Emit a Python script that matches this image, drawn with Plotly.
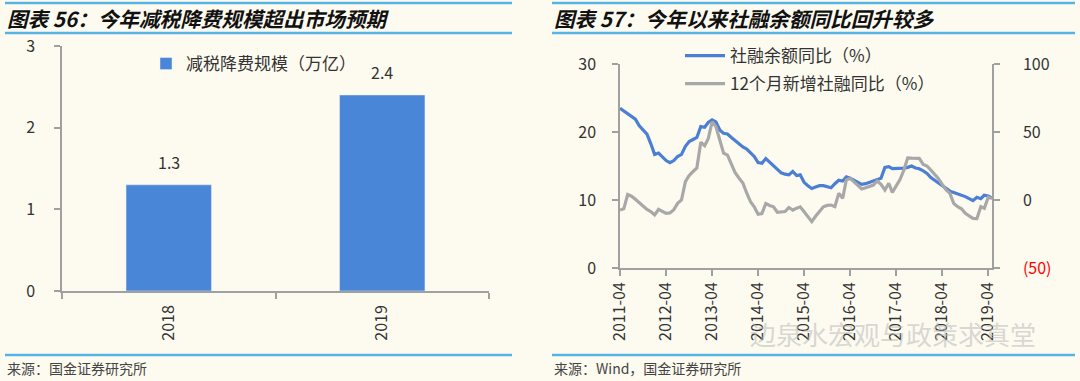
import plotly.graph_objects as go
import pandas as pd

W, H = 1080, 381

# ---------------- data ----------------
years = ["2018", "2019"]
tax_cut = [1.3, 2.4]  # 减税降费规模（万亿）

months = pd.date_range("2011-04-01", periods=98, freq="MS")

# 社融余额同比（%）  left axis
tsf_stock_yoy = [
    23.5, 23.1, 22.7, 22.3, 21.9, 20.9, 20.3, 19.7, 18.3, 16.7, 16.9, 16.3,
    15.8, 15.5, 15.8, 16.4, 16.7, 17.9, 18.6, 18.9, 19.2, 20.8, 20.7, 21.4,
    21.8, 21.5, 20.3, 19.8, 19.7, 19.2, 18.7, 18.3, 17.8, 17.5, 16.9, 16.4,
    15.5, 15.4, 16.1, 15.6, 15.1, 14.5, 14.0, 13.8, 13.7, 14.2, 13.6, 13.7,
    12.6, 12.1, 11.7, 11.9, 12.1, 12.1, 12.0, 11.8, 12.4, 12.9, 12.8, 13.4,
    13.2, 12.9, 12.6, 12.3, 12.4, 12.6, 12.8, 13.0, 13.2, 14.8, 14.9, 14.6,
    14.6, 14.6, 14.7, 14.8, 15.0, 14.7, 14.6, 14.3, 13.9, 13.3, 12.9, 12.6,
    12.2, 11.7, 11.3, 11.1, 10.9, 10.8, 10.5, 10.2, 9.9, 10.4, 10.2, 10.7,
    10.6, 10.3,
]

# 12个月新增社融同比（%）  right axis
tsf_flow_yoy = [
    -7.4, -6.5, 4.0, 2.8, 0.5, -2.0, -4.8, -7.0, -8.5, -11.0, -6.8, -8.5,
    -9.8, -9.5, -7.2, -2.5, 0.0, 13.5, 18.0, 21.0, 23.5, 42.5, 40.0, 45.0,
    57.5, 54.0, 43.0, 34.5, 33.0, 27.0, 20.0, 16.0, 12.5, 5.0, -1.5, -5.0,
    -10.5, -10.0, -2.5, -4.0, -5.0, -9.0, -9.0, -8.5, -5.5, -7.4, -6.0, -5.0,
    -8.6, -12.0, -15.9, -12.0, -8.6, -5.0, -4.0, -3.7, -4.9, 4.9, 1.2, 14.7,
    15.9, 13.5, 11.0, 8.1, 9.0, 10.0, 11.0, 14.0, 11.5, 7.4, 12.3, 5.6,
    10.0, 15.0, 22.0, 31.0, 30.8, 30.6, 30.6, 26.2, 25.0, 22.0, 19.0, 15.9,
    11.5, 7.5, 4.9, -2.5, -4.9, -6.5, -9.8, -12.0, -13.5, -13.7, -4.9, -6.1,
    2.0, 1.2,
]

right_tickvals = [-50, 0, 50, 100]
right_ticktext = ["<span style='color:#FF0000'>(50)</span>", "0", "50", "100"]

title_left = "图表 56：今年减税降费规模超出市场预期"
title_right = "图表 57：今年以来社融余额同比回升较多"
source_left = "来源：国金证券研究所"
source_right = "来源：Wind，国金证券研究所"
watermark = "边泉水宏观与政策求真堂"

# ---------------- helpers ----------------
def px(x):
    return x / W

def py(y):
    return 1 - y / H

BG = "#FDFBF0"
AXIS = "#A0A0A0"
TXT = "#333333"
FONT = "Noto Sans CJK SC"
HEAD = "#56B3E3"

fig = go.Figure()

fig.add_trace(go.Bar(
    x=years, y=tax_cut, width=0.4, marker_color="#4A86D8",
    name="减税降费规模（万亿）", xaxis="x", yaxis="y", legend="legend",
    hoverinfo="skip",
))

fig.add_trace(go.Scatter(
    x=months, y=tsf_stock_yoy, mode="lines",
    line=dict(color="#4A7FD4", width=3.2),
    name="社融余额同比（%）", xaxis="x2", yaxis="y2",
    legend="legend2", legendgroup="a",
))
fig.add_trace(go.Scatter(
    x=months, y=tsf_flow_yoy, mode="lines",
    line=dict(color="#A8A8A8", width=3.2),
    name="12个月新增社融同比（%）", xaxis="x2", yaxis="y3",
    legend="legend2", legendgroup="b",
))

axis_common = dict(
    showline=True, linecolor=AXIS, linewidth=1.5, ticks="outside",
    tickcolor=AXIS, ticklen=6, tickwidth=1.5, showgrid=False, zeroline=False,
    automargin=False,
    tickfont=dict(size=16, color=TXT, family=FONT),
)

annotations = []
for i, v in enumerate(tax_cut):
    annotations.append(dict(
        x=i, y=v, xref="x", yref="y", text=f"{v:.1f}", showarrow=False,
        yshift=23, font=dict(size=16, color=TXT, family=FONT),
    ))

annotations += [
    dict(x=px(5), y=py(18), xref="paper", yref="paper", xanchor="left",
         yanchor="middle", text=f"<b><i>{title_left}</i></b>", showarrow=False,
         font=dict(size=20.6, color="#111111", family=FONT)),
    dict(x=px(552), y=py(18), xref="paper", yref="paper", xanchor="left",
         yanchor="middle", text=f"<b><i>{title_right}</i></b>", showarrow=False,
         font=dict(size=20.6, color="#111111", family=FONT)),
    dict(x=px(5), y=py(368), xref="paper", yref="paper", xanchor="left",
         yanchor="middle", text=source_left, showarrow=False,
         font=dict(size=14, color="#444444", family=FONT)),
    dict(x=px(552), y=py(368), xref="paper", yref="paper", xanchor="left",
         yanchor="middle", text=source_right, showarrow=False,
         font=dict(size=14, color="#444444", family=FONT)),
    dict(x=px(748), y=py(333), xref="paper", yref="paper", xanchor="left",
         yanchor="middle", text=watermark, showarrow=False, opacity=0.55,
         font=dict(size=26, color="#BBBBBB", family=FONT)),
]

shapes = []
for x0, x1 in [(5, 512), (552, 1075)]:
    for yy in (3, 33, 355):
        shapes.append(dict(type="line", xref="paper", yref="paper",
                           x0=px(x0), x1=px(x1), y0=py(yy), y1=py(yy),
                           line=dict(color=HEAD, width=2.5)))

fig.update_layout(
    width=W, height=H, margin=dict(l=0, r=0, t=0, b=0, autoexpand=False),
    paper_bgcolor=BG, plot_bgcolor=BG,
    font=dict(family=FONT, color=TXT),
    xaxis=dict(axis_common, domain=[px(62), px(489)], anchor="y",
               type="category", tickson="boundaries", tickangle=-90,
               range=[-0.5, 1.5], ticklabelstandoff=6),
    yaxis=dict(axis_common, domain=[py(291), py(46)], anchor="x",
               range=[0, 3], dtick=1, ticklabelstandoff=16),
    xaxis2=dict(axis_common, domain=[px(620), px(992)], anchor="y2",
                type="date", range=["2011-04-01", "2019-05-01"],
                tick0="2011-04-01", dtick="M12", tickformat="%Y-%m",
                tickangle=-90, ticklabelstandoff=0),
    yaxis2=dict(axis_common, domain=[py(268), py(64)], anchor="x2",
                range=[0, 30], dtick=10, ticklabelstandoff=13),
    yaxis3=dict(axis_common, overlaying="y2", side="right", anchor="x2",
                range=[-50, 100], tickvals=right_tickvals,
                ticktext=right_ticktext, ticklabelstandoff=20),
    legend=dict(x=px(146), y=py(64), xanchor="left", yanchor="middle",
                bgcolor="rgba(0,0,0,0)", font=dict(size=17, color=TXT),
                itemwidth=30),
    legend2=dict(x=px(680), y=py(38), xanchor="left", yanchor="top",
                 bgcolor="rgba(0,0,0,0)", font=dict(size=17, color=TXT),
                 traceorder="grouped", tracegroupgap=3, itemwidth=40),
    showlegend=True,
    annotations=annotations, shapes=shapes,
)

fig.write_html(
    "out.html",
    config={"displayModeBar": False},
    post_script="document.body.style.margin='0px';document.body.style.padding='0px';document.body.style.overflow='hidden';",
)
